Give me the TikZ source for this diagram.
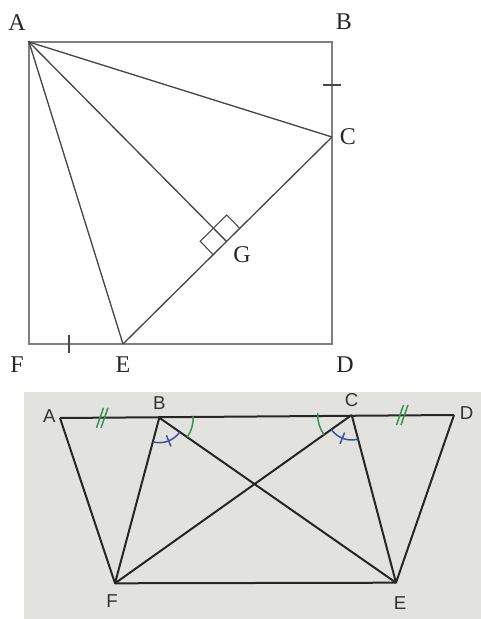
\documentclass[tikz,border=0pt]{standalone}
\usepackage{fontspec}
\setmainfont{Liberation Serif}
\newfontfamily\sansf{Liberation Sans}
\usetikzlibrary{calc}
\definecolor{photobg}{HTML}{E2E2DF}
\definecolor{tickgreen}{HTML}{3A8F55}
\definecolor{arcblue}{HTML}{3B4FA0}
\begin{document}
\begin{tikzpicture}[x=0.75pt,y=0.75pt,
  sqline/.style={draw=black!50, line width=1.3pt},
  inline/.style={draw=black!72, line width=1pt},
  markline/.style={draw=black!72, line width=0.8pt},
  toplab/.style={font=\fontsize{18}{18}\selectfont, text=black!85, inner sep=0pt},
  botlab/.style={font=\sansf\fontsize{14}{14}\selectfont, text=black!80, inner sep=0pt},
  photoline/.style={draw=black!85, line width=1.5pt, line join=round},
  greenarc/.style={draw=tickgreen, line width=1.1pt},
  bluearc/.style={draw=arcblue, line width=1.1pt},
]
\useasboundingbox (0,0) rectangle (481,619);
% ---------- top figure ----------
\coordinate (A) at (29,577);
\coordinate (B) at (332,577);
\coordinate (C) at (332,482);
\coordinate (D) at (332,275);
\coordinate (F) at (29,275);
\coordinate (E) at (123,275);
\coordinate (G) at ($(E)!(A)!(C)$);
\draw[sqline] (A) -- (B) -- (D) -- (F) -- cycle;
\draw[inline] (A) -- (C);
\draw[inline] (A) -- (E);
\draw[inline] (A) -- (G);
\draw[inline] (E) -- (C);
\fill[black!75] (A) circle (1.3);
% right angle mark
\coordinate (Q1) at ($(G)!14pt!(C)$);
\coordinate (Q2) at ($(G)!14pt!(E)$);
\coordinate (R) at ($(G)!14pt!(A)$);
\draw[markline] (Q2) -- ($(Q2)+(R)-(G)$) -- ($(Q1)+(R)-(G)$) -- (Q1);
% equal-length ticks
\coordinate (T1) at (332,534);
\coordinate (T2) at (69,275);
\draw[markline] ([xshift=-7pt]T1) -- ([xshift=7pt]T1);
\draw[markline] ([yshift=-7pt]T2) -- ([yshift=7pt]T2);
% labels
\node[toplab] (lA) at (17,596) {A};
\node[toplab] (lB) at (344,597) {B};
\node[toplab] (lC) at (348,482) {C};
\node[toplab] (lG) at (242,364) {G};
\node[toplab] (lF) at (17,254) {F};
\node[toplab] (lE) at (123,254) {E};
\node[toplab] (lD) at (345,254) {D};
% ---------- bottom figure ----------
\fill[photobg] (24,0) rectangle (481,227);
\coordinate (a) at (60,201);
\coordinate (b) at (159.3,201.3);
\coordinate (c) at (351.7,204);
\coordinate (d) at (454,204);
\coordinate (f) at (115,35.7);
\coordinate (e) at (396,36.3);
\draw[photoline] (a) -- (d);
\draw[photoline] (a) -- (f) -- (e) -- (d);
\draw[photoline] (b) -- (f);
\draw[photoline] (b) -- (e);
\draw[photoline] (c) -- (f);
\draw[photoline] (c) -- (e);
% green double ticks
\coordinate (m1) at (103,201.2);
\coordinate (m2) at (403,204);
\foreach \m in {m1,m2}{
  \draw[greenarc] ([shift={(-6.5,-10)}]\m) -- ([shift={(0.5,10)}]\m);
  \draw[greenarc] ([shift={(-2,-10)}]\m) -- ([shift={(5,10)}]\m);
}
% angle arcs at b
\draw[greenarc] ([shift={(-34.9:34)}]b) arc[start angle=-34.9, end angle=3, radius=34];
\draw[bluearc] ([shift={(255:25)}]b) arc[start angle=255, end angle=325.1, radius=25];
\draw[bluearc] ([shift={(292:19)}]b) -- ([shift={(292:31)}]b);
% angle arcs at c
\draw[greenarc] ([shift={(177:34)}]c) arc[start angle=177, end angle=215.4, radius=34];
\draw[bluearc] ([shift={(215.4:25)}]c) arc[start angle=215.4, end angle=284.8, radius=25];
\draw[bluearc] ([shift={(248:19)}]c) -- ([shift={(248:31)}]c);
% labels
\node[botlab] (la) at (49.3,203) {A};
\node[botlab] (lb) at (159.3,216.3) {B};
\node[botlab] (lc) at (351.7,219) {C};
\node[botlab] (ld) at (466.7,205.7) {D};
\node[botlab] (lf) at (112,17.5) {F};
\node[botlab] (le) at (400,16.3) {E};
\end{tikzpicture}
\end{document}
